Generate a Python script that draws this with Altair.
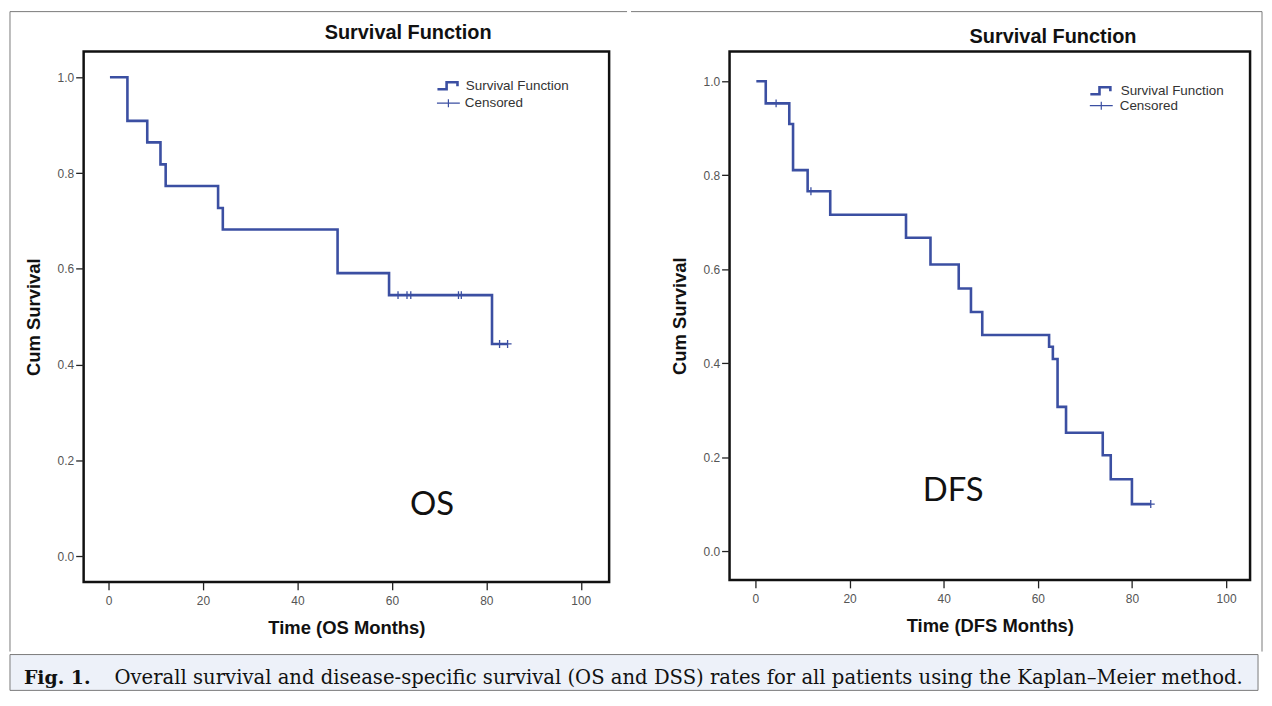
import altair as alt
import pandas as pd

BLUE = "#3b4fa2"
BORDER = "#7a7a7a"
SANS = "Liberation Sans, Arial, sans-serif"

# ---------------- data ----------------
legend_labels = ["Survival Function", "Censored"]
x_ticks = [0, 20, 40, 60, 80, 100]
y_ticks = [0.0, 0.2, 0.4, 0.6, 0.8, 1.0]

# OS (left)
os_time = [0.3, 4.0, 8.2, 11.0, 12.1, 23.2, 24.2, 48.5, 59.4, 81.2, 84.6]
os_surv = [1.0, 0.909, 0.864, 0.818, 0.773, 0.727, 0.682, 0.591, 0.545, 0.443, 0.443]
os_cens_time = [61.3, 63.2, 64.0, 74.1, 74.7, 82.8, 84.5]
os_cens_surv = [0.545, 0.545, 0.545, 0.545, 0.545, 0.443, 0.443]

# DFS (right)
dfs_time = [0.2, 2.2, 7.2, 8.0, 11.1, 15.9, 32.0, 37.2, 43.2, 45.8, 48.2,
            62.4, 63.2, 64.2, 66.0, 73.8, 75.5, 80.0, 84.0]
dfs_surv = [1.0, 0.953, 0.909, 0.811, 0.766, 0.716, 0.667, 0.610, 0.559, 0.509, 0.460,
            0.435, 0.409, 0.307, 0.252, 0.204, 0.153, 0.100, 0.100]
dfs_cens_time = [4.4, 11.8, 84.0]
dfs_cens_surv = [0.953, 0.766, 0.100]

panel_title = "Survival Function"
y_title = "Cum Survival"
x_titles = ["Time (OS Months)", "Time (DFS Months)"]
notes = ["OS", "DFS"]
note_x = [68.5, 42.0]
note_y = [0.106, 0.127]

caption_label = "Fig. 1."
caption_text = ("Overall survival and disease-specific survival (OS and DSS) rates "
                "for all patients using the Kaplan\u2013Meier method.")

STEP_PATH = "M-1,0.3L-0.2,0.3L-0.2,-0.3L0.75,-0.3L0.75,0.05"
LEG_PLUS = "M-1,0L1,0M0,-0.35L0,0.35"
PLUS = "M-1,0L1,0M0,-1L0,1"


def panel(times, surv, ctimes, csurv, xtitle, note, nx, ny, xdom, ydom, w, h,
          title_pos, leg_x, leg_y, label_offset, border_rules):
    curve = pd.DataFrame({"t": times, "s": surv, "kind": legend_labels[0]})
    cens = pd.DataFrame({"t": ctimes, "s": csurv, "kind": legend_labels[1]})
    note_df = pd.DataFrame({"t": [nx], "s": [ny], "label": [note]})
    title_df = pd.DataFrame({"label": [panel_title]})
    dummy = pd.DataFrame({"d": [0]})

    x = alt.X("t:Q", scale=alt.Scale(domain=xdom, nice=False, zero=False),
              axis=alt.Axis(values=x_ticks, format="d", title=xtitle))
    y = alt.Y("s:Q", scale=alt.Scale(domain=ydom, nice=False, zero=False),
              axis=alt.Axis(values=y_ticks, format=".1f", title=y_title))

    leg_common = dict(title=None, orient="none", padding=0, symbolSize=529,
                      labelFont=SANS, labelFontSize=13.5, labelColor="#333",
                      labelOffset=label_offset, symbolStrokeColor=BLUE,
                      symbolFillColor="transparent")

    line = alt.Chart(curve).mark_line(interpolate="step-after", strokeWidth=2.6).encode(
        x=x, y=y,
        color=alt.Color("kind:N",
                        scale=alt.Scale(domain=[legend_labels[0]], range=[BLUE]),
                        legend=alt.Legend(legendX=leg_x, legendY=leg_y[0],
                                          symbolType=STEP_PATH, symbolStrokeWidth=2.6,
                                          **leg_common)),
    )
    pts = alt.Chart(cens).mark_point(shape=PLUS, filled=False, size=64,
                                     strokeWidth=1.3, color=BLUE).encode(
        x=x, y=y,
        opacity=alt.Opacity("kind:N",
                            scale=alt.Scale(domain=[legend_labels[1]], range=[1, 1]),
                            legend=alt.Legend(legendX=leg_x, legendY=leg_y[1],
                                              symbolType=LEG_PLUS, symbolStrokeWidth=1.2,
                                              **leg_common)),
    )
    txt = alt.Chart(note_df).mark_text(font="Lato, Open Sans, sans-serif", fontSize=33,
                                       color="#111").encode(x=x, y=y, text="label:N")
    ttl = alt.Chart(title_df).mark_text(font=SANS, fontSize=20, fontWeight="bold",
                                        color="#111", align="center", baseline="middle").encode(
        x=alt.value(title_pos[0]), y=alt.value(title_pos[1]), text="label:N")

    rules = [alt.Chart(dummy).mark_rule(color=BORDER, strokeWidth=1).encode(**r)
             for r in border_rules]

    return alt.layer(*rules, line, pts, txt, ttl).properties(
        width=w, height=h,
        view=alt.ViewBackground(stroke="#111", strokeWidth=2.5, fill="white"),
    )


left = panel(os_time, os_surv, os_cens_time, os_cens_surv, x_titles[0], notes[0],
             note_x[0], note_y[0], [-5.27, 106.0], [-0.054, 1.054], 528, 533,
             (326, -18), 354, [21.5, 39.5], 4,
             [dict(x=alt.value(-74), y=alt.value(-40), y2=alt.value(603)),
              dict(x=alt.value(-74), x2=alt.value(546), y=alt.value(-40))])

right = panel(dfs_time, dfs_surv, dfs_cens_time, dfs_cens_surv, x_titles[1], notes[1],
              note_x[1], note_y[1], [-5.49, 105.1], [-0.0614, 1.0636], 523, 531,
              (325, -14), 361, [26.5, 42.0], 6,
              [dict(x=alt.value(-99), x2=alt.value(535), y=alt.value(-40)),
               dict(x=alt.value(535), y=alt.value(-40), y2=alt.value(603))])

top = alt.hconcat(left, right, spacing=0).resolve_scale(
    color="independent", opacity="independent").resolve_legend(
    color="independent", opacity="independent")

# caption band (drawn from the left panel's origin, which the column shares)
cap_df = pd.DataFrame({"fig": [caption_label], "txt": [caption_text]})
SERIF = "DejaVu Serif, Liberation Serif, serif"
band = alt.Chart(cap_df).mark_rect(fill="#edf1f9", stroke=BORDER, strokeWidth=1).encode(
    x=alt.value(-74), x2=alt.value(1180), y=alt.value(0), y2=alt.value(36))
cap_fig = alt.Chart(cap_df).mark_text(align="left", baseline="alphabetic", font=SERIF,
                                      fontSize=19, fontWeight="bold", color="#111").encode(
    x=alt.value(-60), y=alt.value(30), text="fig:N")
cap_txt = alt.Chart(cap_df).mark_text(align="left", baseline="alphabetic", font=SERIF,
                                      fontSize=19.7, color="#111").encode(
    x=alt.value(31), y=alt.value(30), text="txt:N")
caption = alt.layer(band, cap_fig, cap_txt).properties(
    width=528, height=36,
    view=alt.ViewBackground(strokeWidth=0, fill="transparent"),
)

chart = alt.vconcat(top, caption, spacing=0).properties(
    padding=0, background="white"
).configure_axis(
    domain=False, grid=False, ticks=True, tickColor="#222", tickSize=8, tickWidth=1.3,
    labelFont=SANS, labelFontSize=12, labelColor="#555",
    titleFont=SANS, titleFontSize=18.5, titleFontWeight="bold", titleColor="#111",
).configure_axisX(labelPadding=6, titlePadding=12).configure_axisY(
    labelPadding=2, titlePadding=14)

chart.save("out.html", embed_options={"renderer": "svg", "actions": False})
